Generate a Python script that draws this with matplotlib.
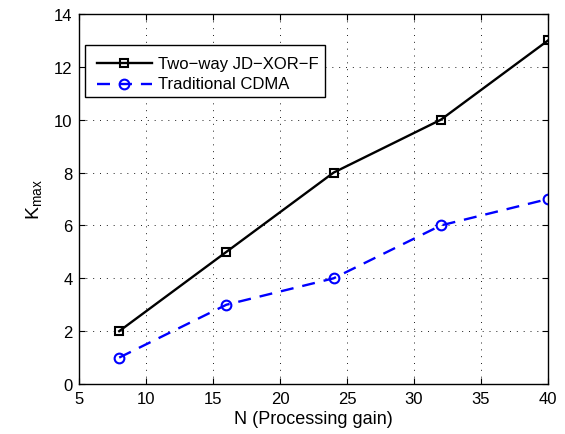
import matplotlib
matplotlib.use("Agg")
import matplotlib.pyplot as plt
from matplotlib.patches import Rectangle

# data
gain_n = [8, 16, 24, 32, 40]
kmax_twoway = [2, 5, 8, 10, 13]
kmax_cdma = [1, 3, 4, 6, 7]
label_twoway = "Two\u2212way JD\u2212XOR\u2212F"
label_cdma = "Traditional CDMA"

plt.rcParams["font.family"] = ["Liberation Sans", "DejaVu Sans"]
plt.rcParams["font.size"] = 12
plt.rcParams["mathtext.default"] = "regular"

fig = plt.figure(figsize=(5.65, 4.35), dpi=100)
ax = fig.add_axes([0.1398, 0.1149, 0.8302, 0.8506])

dash = (0, (5.5, 3.8))
ax.plot(gain_n, kmax_twoway, color="black", marker="s", markersize=6,
        linewidth=1.7, markeredgewidth=1.5, markerfacecolor="none")
ax.plot(gain_n, kmax_cdma, color="blue", marker="o", markersize=7, linestyle=dash,
        linewidth=1.7, markeredgewidth=1.5, markerfacecolor="none")

ax.set_xlim(5, 40)
ax.set_ylim(0, 14)
ax.set_xticks(range(5, 41, 5))
ax.set_yticks(range(0, 15, 2))
ax.set_xlabel("N (Processing gain)", fontsize=13, labelpad=3)
ax.set_ylabel("K$_{max}$", fontsize=14, labelpad=7)

ax.grid(True, color="black", linestyle=(0, (1.2, 7)), linewidth=0.6)
ax.tick_params(direction="in", length=4, width=0.8, top=True, right=True, labelsize=12)
ax.tick_params(axis="x", pad=5)
ax.tick_params(axis="y", pad=4.5)
for s in ax.spines.values():
    s.set_linewidth(1.0)

# hand-drawn legend, text clipped by its box like the original
tr = ax.transAxes
box = Rectangle((0.0128, 0.7757), 0.5117, 0.1403, transform=tr,
                facecolor="white", edgecolor="black", linewidth=1.0, zorder=5)
ax.add_patch(box)
rows = [(0.8675, "black", "s", "-", 6, label_twoway),
        (0.811, "blue", "o", dash, 7, label_cdma)]
for y, col, mk, ls, ms, lab in rows:
    ax.plot([0.039, 0.156], [y, y], transform=tr, color=col, linestyle=ls,
            linewidth=1.7, zorder=6, clip_on=False)
    ax.plot([0.0965], [y], transform=tr, color=col, marker=mk, markersize=ms,
            markeredgewidth=1.5, markerfacecolor="none", zorder=6, clip_on=False)
    t = ax.text(0.168, y, lab, transform=tr, va="center", ha="left",
                fontsize=12, zorder=7)
    t.set_clip_path(box)

fig.savefig("out.png", dpi=100)
